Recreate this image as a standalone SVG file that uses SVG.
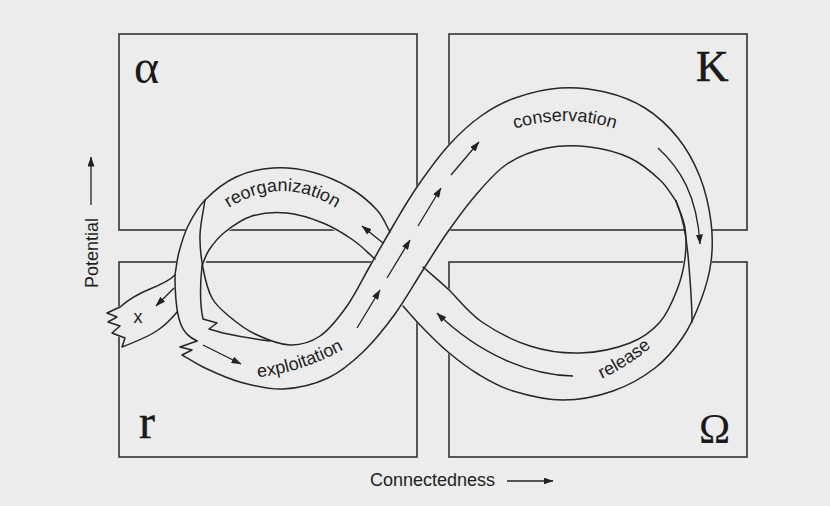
<svg xmlns="http://www.w3.org/2000/svg" width="830" height="506" viewBox="0 0 830 506">
<defs>
<style>
.box{fill:none;stroke:#333;stroke-width:1.6}
.sym{font-family:"Liberation Serif","Times New Roman",serif;fill:#1a1a1a}
.bgf{fill:#ececec;stroke:#ececec;stroke-width:2;stroke-linejoin:round}
.edge{fill:none;stroke:#262626;stroke-width:1.5;stroke-linejoin:round;stroke-linecap:round}
.arr{fill:none;stroke:#222;stroke-width:1.3;marker-end:url(#ah)}
.lbl{font-family:"Liberation Sans",Arial,sans-serif;font-size:18px;fill:#1e1e1e}
</style>
<marker id="ah" viewBox="0 0 10 7" refX="9.5" refY="3.5" markerWidth="10" markerHeight="7" markerUnits="userSpaceOnUse" orient="auto">
<path d="M0,0 L10,3.5 L0,7 Z" fill="#222"/>
</marker>
<path id="tp-reorg" d="M215,218 Q282,164 350,218"/>
<path id="tp-cons" d="M495,136 Q565,106 635,136"/>
<path id="tp-expl" d="M245,378 Q300,376 355,343"/>
<path id="tp-rel" d="M585,386 Q628,370 665,335"/>
</defs>
<rect x="0" y="0" width="830" height="506" fill="#ececec"/>

<g id="node-alpha">
<rect class="box" x="119" y="34" width="298" height="196"/>
<text class="sym" x="134" y="83" font-size="48">α</text>
</g>
<g id="node-K">
<rect class="box" x="449" y="34" width="298" height="196"/>
<text class="sym" x="696" y="81" font-size="45" stroke="#1a1a1a" stroke-width="0.6">K</text>
</g>
<g id="node-r">
<rect class="box" x="119" y="262" width="298" height="195"/>
<text class="sym" x="139" y="438" font-size="48" stroke="#1a1a1a" stroke-width="0.4">r</text>
</g>
<g id="node-omega">
<rect class="box" x="449" y="262" width="298" height="195"/>
<text class="sym" x="699" y="443" font-size="42">Ω</text>
</g>

<g id="connectors">
<polygon class="bgf" points="390,232 377,210 350,188 312,172 273,168 236,177 205,200 188,226 179,252 175,275 175,290 177,310 181,325 188,335 197,341 215,338 230,317 212,298 203,268 209,250 225,232 252,216 287,213 323,223 353,240 375,259 403,306 422,327 448,352 478,374 513,391 563,400 613,391 655,368 683,337 701,300 711,262 711,222 676,201 685,228 685,258 677,290 660,322 630,343 580,353 530,346 482,322 448,289 423,267"/>
<polygon class="bgf" points="175,272 163,281 150,289 133,298 120,307 107,313 117,317 108,322 120,326 112,333 125,338 122,347 135,342 148,337 158,330 170,320 177,312 176,290"/>
<polygon class="bgf" points="223,333 245,337 270,341 290,345 320,336 347,306 370,266 393,226 417,187 449,145 481,116 515,98 560,88 605,92 645,108 678,138 700,177 711,222 676,201 660,180 630,158 590,147 547,148 507,164 475,196 447,233 423,270 395,314 363,352 328,378 283,389 240,382 205,368 182,355 192,350 180,347 197,341 203,319 217,323 209,329"/>

<path class="edge" d="M205,200 C203.3,211.7 200.3,223.7 200,235 S201,257.5 203,268 S207.5,289.8 212,298 S222.8,311 230,317 S245,329.3 255,334 S279.2,344.7 290,345 S310.5,342.5 320,336 S338.7,317.7 347,306 S362.3,279.3 370,266 S385.2,239.2 393,226 S407.7,200.5 417,187 S438.3,156.8 449,145 S470,123.8 481,116 S501.8,102.7 515,98 S545,89 560,88 S590.8,88.7 605,92 S632.8,100.3 645,108 S668.8,126.5 678,138 S694.5,163 700,177 S709.2,207.8 711,222 S712.7,249 711,262 S705.7,287.5 701,300 S690.7,325.7 683,337 S666.7,359 655,368 S628.3,385.7 613,391 S579.7,400 563,400 S527.2,395.3 513,391 S488.8,380.5 478,374 S457.3,359.8 448,352 S429.5,334.7 422,327 S409.3,313 403,306"/>
<path class="edge" d="M375,259 C367.7,252.7 361.7,246 353,240 S334,227.5 323,223 S298.8,214.2 287,213 S262.3,212.8 252,216 S232.2,226.3 225,232 S212.8,244.3 209,250 S204.3,260.7 202,266"/>
<path class="edge" d="M390,232 C385.7,224.7 383.7,217.3 377,210 S360.8,194.3 350,188 S324.8,175.3 312,172 S285.7,167.2 273,168 S247.3,171.7 236,177 S213,191.8 205,200 S192.3,217.3 188,226 S181.2,243.8 179,252 S176.3,267.3 175,275 C175,290 176,310 180,322 S191,338 197,341"/>
<path class="edge" d="M197,341 L180,347 L192,350 L182,355 C189.7,359.3 195.3,363.5 205,368 S227,378.5 240,382 S268.3,389.7 283,389 S314.7,384.2 328,378 S351.8,362.7 363,352 S385,327.7 395,314 S414.3,283.5 423,270 S438.3,245.3 447,233 S465,207.5 475,196 S495,172 507,164 S533.2,150.8 547,148 S576.2,145.3 590,147 S618.3,152.5 630,158 S652.3,172.8 660,180 S670.7,194 676,201"/>
<path class="edge" d="M676,201 C682,215 686,232 688,255 S692,300 692,322"/>
<path class="edge" d="M676,201 C679,210 683.5,218.5 685,228 S686.3,247.7 685,258 S681.2,279.3 677,290 S667.8,313.2 660,322 S643.3,337.8 630,343 S596.7,352.5 580,353 S546.3,351.2 530,346 S495.7,331.5 482,322 S457.8,298.2 448,289 S431.3,274.3 423,267"/>
<path class="edge" d="M202,266 C200,285 200,305 203,319 L217,323 L209,329 L223,333 Q246,338 270,341"/>
<path class="edge" d="M175,275 C170,280 160,285 150,289 S128,300 120,307 L107,313 L117,317 L108,322 L120,326 L112,333 L125,338 L122,347 C135,342 148,337 158,330 S172,318 177,312"/>

<path class="arr" d="M174,288 L156,306"/>
<path class="arr" d="M203,345 L241,364"/>
<path class="arr" d="M357,328 L380,290"/>
<path class="arr" d="M387,278 L410,240"/>
<path class="arr" d="M418,226 L441,188"/>
<path class="arr" d="M451,175 L479,142"/>
<path class="arr" d="M383,243 L362,226"/>
<path class="arr" d="M658,148 C680,168 697,195 700,244"/>
<path class="arr" d="M573,376 C530,375 480,355 437,313"/>

<text class="lbl"><textPath href="#tp-reorg" startOffset="50%" text-anchor="middle">reorganization</textPath></text>
<text class="lbl"><textPath href="#tp-cons" startOffset="50%" text-anchor="middle">conservation</textPath></text>
<text class="lbl"><textPath href="#tp-expl" startOffset="50%" text-anchor="middle">exploitation</textPath></text>
<text class="lbl" font-size="17"><textPath href="#tp-rel" startOffset="50%" text-anchor="middle">release</textPath></text>
<text class="lbl" x="138" y="323" text-anchor="middle">x</text>
</g>

<g id="axes">
<text class="lbl" transform="translate(98,288) rotate(-90)">Potential</text>
<path class="arr" d="M91,205 L91,157"/>
<text class="lbl" x="370" y="486">Connectedness</text>
<path class="arr" d="M507,481 L553,481"/>
</g>
</svg>
